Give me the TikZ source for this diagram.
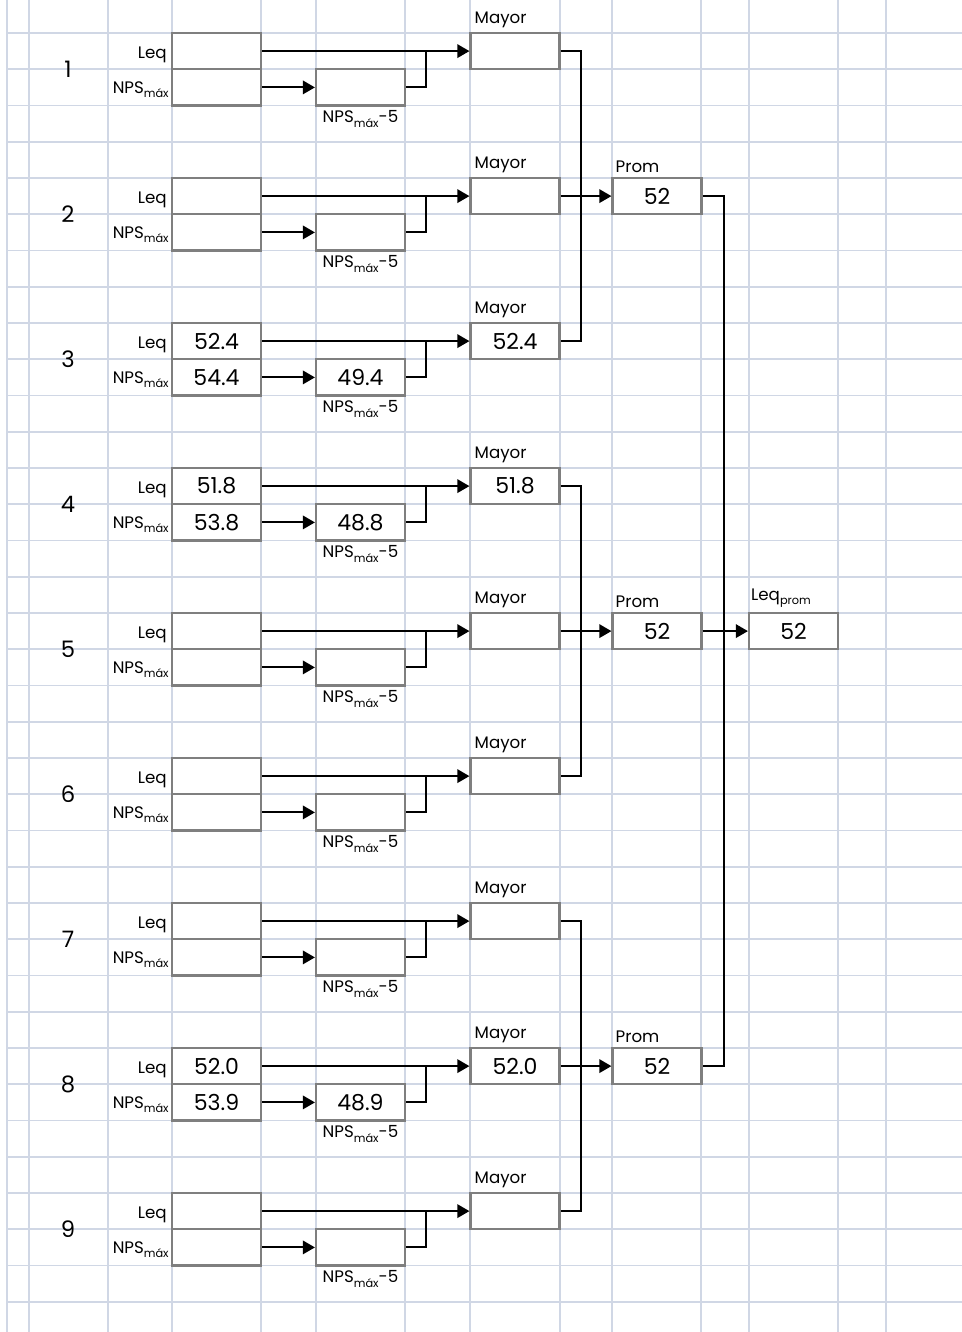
\documentclass[tikz,border=0pt]{standalone}
\usepackage{fontspec}
\setmainfont{Poppins}
\usepackage{tikz}
\usetikzlibrary{arrows.meta, positioning, calc}
\definecolor{hojagrid}{HTML}{D0D7E5}
\definecolor{hojabox}{HTML}{7F7F7F}
\newcommand{\lsub}[1]{\raisebox{-0.45ex}{\fontsize{8.5}{9}\selectfont #1}}
\tikzset{
  celda/.style={draw=hojabox, line width=1.6pt, fill=white, inner sep=0pt,
                minimum width=66.75pt, minimum height=27.2pt,
                font=\fontsize{16.5}{18}\selectfont},
  etiq/.style={inner sep=0pt, font=\fontsize{12.5}{14}\selectfont},
  grilla/.style={draw=hojagrid, line width=1.2pt},
  arrow/.style={-{Triangle[length=9pt,width=10pt]}, line width=1.5pt},
  link/.style={line width=1.5pt}
}

\begin{document}
\begin{tikzpicture}[x=0.75pt, y=-0.75pt]
  \useasboundingbox (0,0) rectangle (962,1332);
  % hoja
  \foreach \gx in {7,29,108,172,261,316,405,470,560,612,701,749,838,886}
    \draw[grilla] (\gx,0) -- (\gx,1332);
  \foreach \n in {0,...,35}
    \draw[grilla] (7,{33+36.25*\n}) -- (962,{33+36.25*\n});

  % puntos de medicion
  \foreach \k/\vl/\vn/\vf/\vm in {1/{}/{}/{}/{}, 2/{}/{}/{}/{}, 3/52.4/54.4/49.4/52.4,
      4/51.8/53.8/48.8/51.8, 5/{}/{}/{}/{}, 6/{}/{}/{}/{}, 7/{}/{}/{}/{},
      8/52.0/53.9/48.9/52.0, 9/{}/{}/{}/{}}{
    \pgfmathsetmacro{\ty}{33+145*(\k-1)}
    \node[font=\fontsize{17}{19}\selectfont, inner sep=0pt] (num\k) at (68,\ty+36) {\k};
    \node[celda] (leq\k) at (216.5,\ty+18.1) {\vl};
    \node[celda] (nps\k) at (216.5,\ty+54.4) {\vn};
    \node[celda] (cinco\k) at (360.5,\ty+54.4) {\vf};
    \node[celda] (may\k) at (515,\ty+18.1) {\vm};
    \node[etiq, left=3pt of leq\k, yshift=-3pt] (tleq\k) {Leq};
    \node[etiq, left=1.5pt of nps\k, yshift=-2pt] (tnps\k) {NPS\lsub{máx}};
    \node[etiq, below=3pt of cinco\k] (tcinco\k) {NPS\lsub{máx}-5};
    \node[etiq, anchor=south west] (tmay\k) at ([shift={(5,-4)}]may\k.north west) {Mayor};
    \coordinate (une\k) at (426,\ty+18.1);
    \draw[arrow] (leq\k) -- (may\k);
    \draw[arrow] (nps\k) -- (cinco\k);
    \draw[link] (cinco\k) -| (une\k);
  }

  % promedios por grupo
  \foreach \a/\b/\c in {1/2/3, 4/5/6, 7/8/9}{
    \node[celda] (prom\b) at (657,{33+145*(\b-1)+18.1}) {52};
    \node[etiq, anchor=south west] (tprom\b) at ([shift={(4,-4)}]prom\b.north west) {Prom};
    \draw[link] (may\a.east) -- ++(20,0) |- (may\c.east);
    \draw[arrow] (may\b) -- (prom\b);
  }

  \node[celda] (leqprom) at (793.5,631.1) {52};
  \node[etiq, anchor=south west] (tleqprom) at ([shift={(3,-4)}]leqprom.north west) {Leq\lsub{prom}};
  \draw[link] (prom2.east) -- ++(21,0) |- (prom8.east);
  \draw[arrow] (prom5) -- (leqprom);
\end{tikzpicture}
\end{document}
